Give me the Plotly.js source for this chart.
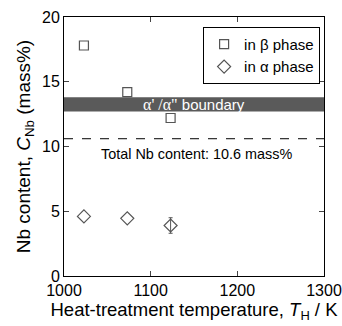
<!DOCTYPE html>
<html><head><meta charset="utf-8">
<script src="https://cdn.plot.ly/plotly-3.0.1.min.js"></script>
<style>body{margin:0;background:#fff}#g{width:342px;height:326px}</style>
</head><body><div id="g"></div>
<script>
const tempBeta = [1023, 1073, 1123];
const nbBeta = [17.8, 14.2, 12.2];
const tempAlpha = [1023, 1073, 1123];
const nbAlpha = [4.6, 4.45, 3.9];
const errAlpha = [0, 0, 0.6];
const bandLow = 12.7, bandHigh = 13.8;
const totalNb = 10.6;
const xRange = [1000, 1300], yRange = [0, 20];
const xTicks = [1000, 1100, 1200, 1300];
const yTicks = [0, 5, 10, 15, 20];

const fam = 'Liberation Sans, Arial, sans-serif';
const withErr = errAlpha.map((e, i) => i).filter(i => errAlpha[i] > 0);
const traces = [
  {x: withErr.map(i => tempAlpha[i]), y: withErr.map(i => nbAlpha[i]), mode: 'markers', type: 'scatter',
   showlegend: false, hoverinfo: 'skip',
   error_y: {type: 'data', array: withErr.map(i => errAlpha[i]), visible: true, color: '#555', thickness: 1, width: 2},
   marker: {size: 1, color: 'rgba(0,0,0,0)'}},
  {x: tempBeta, y: nbBeta, mode: 'markers', name: 'in β phase', type: 'scatter',
   marker: {symbol: 'square-open', size: 9, color: '#555', line: {width: 1.2}}},
  {x: tempAlpha, y: nbAlpha, mode: 'markers', name: 'in α phase', type: 'scatter',
   marker: {symbol: 'diamond-open', size: 10, color: '#555', line: {width: 1.2}}}
];
const layout = {
  width: 342, height: 326,
  margin: {l: 64, r: 18, t: 17, b: 50},
  paper_bgcolor: '#fff', plot_bgcolor: '#fff',
  font: {size: 16, family: fam, color: '#000'},
  showlegend: true,
  legend: {x: 0.985, y: 0.962, xanchor: 'right', yanchor: 'top', bordercolor: '#000', borderwidth: 1,
           bgcolor: '#fff', font: {size: 15, family: fam}, itemwidth: 20, tracegroupgap: 0},
  xaxis: {range: xRange, tickvals: xTicks, ticks: 'inside', ticklen: 5, mirror: 'ticks', showline: true,
          linecolor: '#000', linewidth: 1, showgrid: false, zeroline: false, tickfont: {size: 16},
          title: {text: 'Heat-treatment temperature, <i>T</i><sub>H</sub> / K', font: {size: 18.5}, standoff: 3}},
  yaxis: {range: yRange, tickvals: yTicks, ticks: 'inside', ticklen: 5, mirror: 'ticks', showline: true,
          linecolor: '#000', linewidth: 1, showgrid: false, zeroline: false, tickfont: {size: 16},
          title: {text: 'Nb content, <i>C</i><sub>Nb</sub> (mass%)', font: {size: 19}, standoff: 6}},
  shapes: [
    {type: 'rect', xref: 'paper', x0: 0, x1: 1, yref: 'y', y0: bandLow, y1: bandHigh,
     fillcolor: '#5a5a5a', line: {width: 0}, layer: 'below'},
    {type: 'line', xref: 'paper', x0: 0, x1: 1, yref: 'y', y0: totalNb, y1: totalNb,
     line: {color: '#000', width: 1, dash: 'dash'}}
  ],
  annotations: [
    {x: 1150, y: (bandLow + bandHigh) / 2, xref: 'x', yref: 'y', showarrow: false,
     text: "<span style=\"font-family:'Liberation Serif',serif;font-size:16px\">α' /α\"</span> boundary",
     font: {size: 15, color: '#fff', family: fam}},
    {x: 1153, y: 9.4, xref: 'x', yref: 'y', showarrow: false,
     text: 'Total Nb content: ' + totalNb + ' mass%', font: {size: 14.4, color: '#000', family: fam}}
  ]
};
Plotly.newPlot('g', traces, layout, {displayModeBar: false, staticPlot: true});
</script></body></html>
